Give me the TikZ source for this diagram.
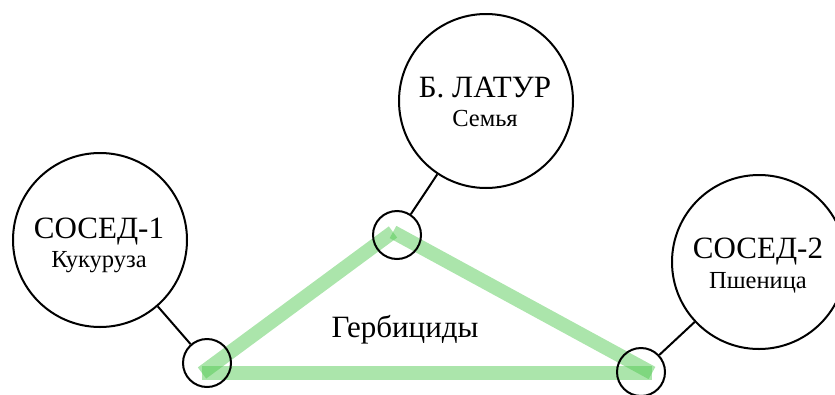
\documentclass[tikz,border=0pt]{standalone}
\usepackage{fontspec}
\setmainfont{Liberation Serif}
\definecolor{hgreen}{RGB}{80,200,80}
\begin{document}
\begin{tikzpicture}[x=1pt,y=-1pt,
  big/.style={circle,draw,line width=2pt,minimum size=174pt,inner sep=0pt},
  hub/.style={circle,draw,line width=2pt,minimum size=48pt,inner sep=0pt},
  link/.style={line width=2pt},
  herb/.style={line width=14pt,draw=hgreen,draw opacity=0.48,line cap=butt},
  ttl/.style={font=\fontsize{31}{31}\selectfont,inner sep=0pt,anchor=base},
  sub/.style={font=\fontsize{24.5}{24.5}\selectfont,inner sep=0pt,anchor=base},
]
\useasboundingbox (0,0) rectangle (835,394);
\clip (0,0) rectangle (835,394);
% green triangle
\coordinate (gA) at (202,373);
\coordinate (gB) at (393,232);
\coordinate (gC) at (652,373);
\draw[herb] (gA) -- (gC);
\draw[herb] (gA) -- (gB);
\draw[herb] (gB) -- (gC);
% circles
\node[big] (n1) at (100,240) {};
\node[big] (bl) at (486,101) {};
\node[big] (n2) at (759,262) {};
\node[hub] (h1) at (207,363) {};
\node[hub] (h2) at (397,235) {};
\node[hub] (h3) at (641,372) {};
% connectors
\draw[link] (n1) -- (h1);
\draw[link] (bl) -- (h2);
\draw[link] (n2) -- (h3);
% texts
\node[ttl] (t1) at (99,238) {СОСЕД-1};
\node[sub] (s1) at (99,267) {Кукуруза};
\node[ttl] (t2) at (485,97) {Б. ЛАТУР};
\node[sub] (s2) at (485,126) {Семья};
\node[ttl] (t3) at (758,258) {СОСЕД-2};
\node[sub] (s3) at (758,288) {Пшеница};
\node[ttl] (hg) at (405,337) {Гербициды};
\end{tikzpicture}
\end{document}
